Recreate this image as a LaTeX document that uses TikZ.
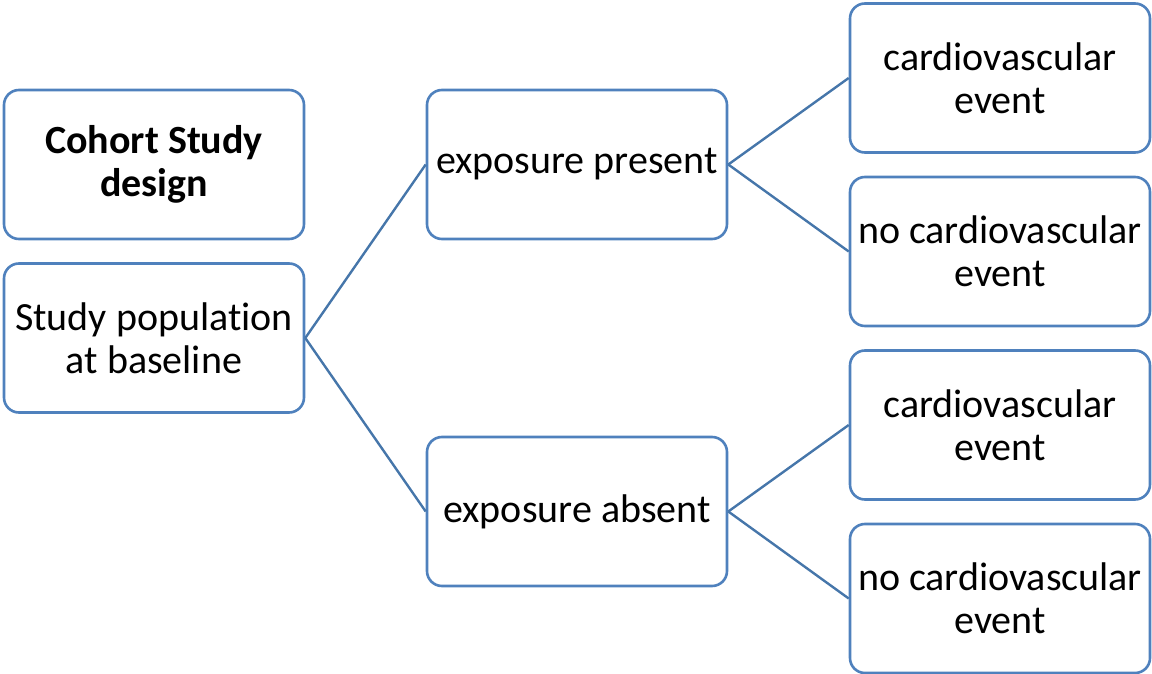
\documentclass[tikz,border=0pt]{standalone}
\usepackage{fontspec}
\setmainfont{Carlito}[Ligatures={NoCommon}]
\usepackage{xcolor}
\usetikzlibrary{positioning}
\definecolor{boxline}{RGB}{79,129,189}
\definecolor{linkline}{RGB}{70,118,170}

\begin{document}
\begin{tikzpicture}[
  x=1pt, y=-1pt,
  font=\fontsize{40}{43}\selectfont,
  box/.style={draw=boxline, line width=2.6pt, rounded corners=15pt, fill=white, align=center,
    minimum width=300pt, minimum height=149pt, inner sep=0pt},
  link/.style={draw=linkline, line width=2.4pt}
]
\useasboundingbox (0,0) rectangle (1152,674);
% left column
\node[box, font=\fontsize{40}{43}\selectfont\bfseries] (design) at (154,164.5) {Cohort Study\\design};
\node[box] (pop) at (154,338) {Study population\\at baseline};

% exposure groups
\node[box] (pres) at (577,164.5) {exposure present};
\node[box] (abs)  at (577,511.5) {exposure absent};

% outcomes
\node[box] (pres-ev) at (1000,78)    {cardiovascular\\event};
\node[box] (pres-no) at (1000,251.5) {no cardiovascular\\event};
\node[box] (abs-ev)  at (1000,425)   {cardiovascular\\event};
\node[box] (abs-no)  at (1000,598.5) {no cardiovascular\\event};

\draw[link] (pop.east) -- (pres.west);
\draw[link] (pop.east) -- (abs.west);
\draw[link] (pres.east) -- (pres-ev.west);
\draw[link] (pres.east) -- (pres-no.west);
\draw[link] (abs.east) -- (abs-ev.west);
\draw[link] (abs.east) -- (abs-no.west);
\end{tikzpicture}
\end{document}
